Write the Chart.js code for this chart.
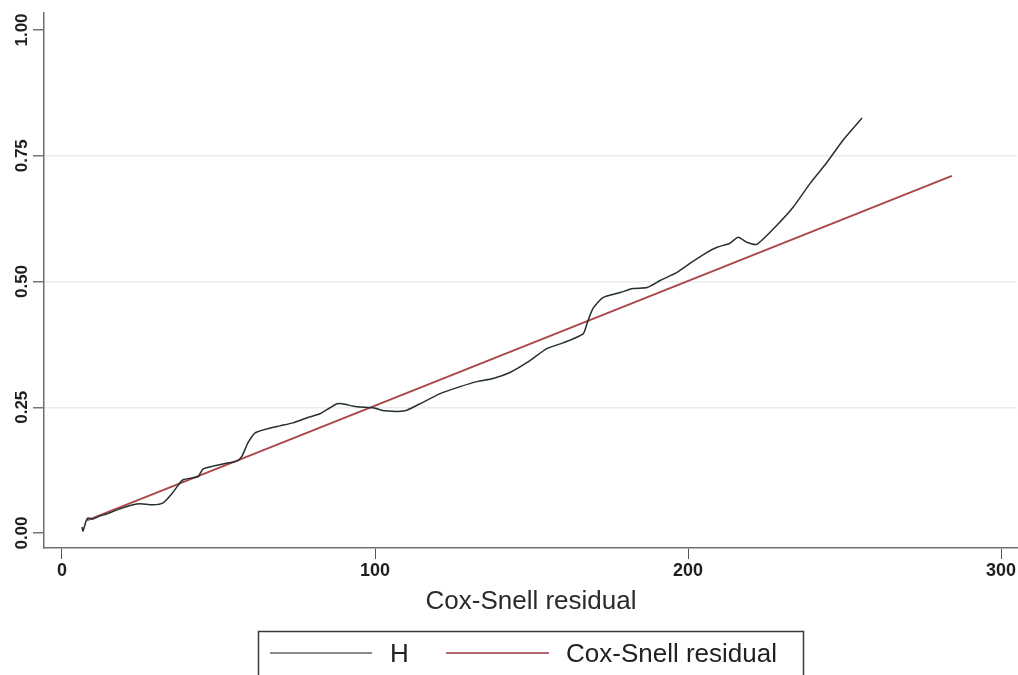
<!DOCTYPE html>
<html>
<head>
<meta charset="utf-8">
<script src="https://cdn.jsdelivr.net/npm/chart.js@4/dist/chart.umd.min.js"></script>
<style>
  html, body { margin: 0; background: #fff; }
</style>
</head>
<body>
<canvas id="grafico" width="1018" height="675"></canvas>
<script>
// valores
const hX = [6.4, 6.7, 7.7, 8.3, 9.9, 12.1, 14.4, 18.5, 22.7, 24.9, 29.1, 32.3, 35.1, 37.7, 38.7, 41.9, 43.5, 45.0, 48.2, 52.7,
            55.9, 57.5, 59.4, 61.7, 65.5, 69.6, 73.8, 78.3, 82.4, 85.6, 87.9, 89.5, 94.2, 99.4, 103.2, 109.6, 114.4, 120.8, 127.2, 132.6,
            137.7, 143.1, 148.6, 155.0, 160.1, 166.5, 167.7, 169.6, 172.8, 178.3, 182.4, 186.9, 191.1, 196.5, 200.6, 206.1, 209.3, 213.4, 216.0, 218.8,
            222.0, 228.4, 233.5, 239.0, 244.4, 249.5, 255.6];
const hY = [0.012, 0.004, 0.024, 0.030, 0.028, 0.034, 0.038, 0.048, 0.056, 0.058, 0.056, 0.060, 0.078, 0.100, 0.106, 0.110, 0.112, 0.127, 0.133, 0.139,
            0.143, 0.153, 0.179, 0.199, 0.207, 0.213, 0.219, 0.229, 0.237, 0.249, 0.257, 0.257, 0.251, 0.249, 0.243, 0.243, 0.257, 0.277, 0.291, 0.301,
            0.307, 0.319, 0.339, 0.367, 0.378, 0.396, 0.416, 0.446, 0.468, 0.478, 0.486, 0.488, 0.502, 0.518, 0.536, 0.558, 0.568, 0.576, 0.588, 0.578,
            0.574, 0.612, 0.647, 0.695, 0.737, 0.781, 0.825];
const csX = [8.0, 284.3];
const csY = [0.025, 0.710];

const xTicks = [0, 100, 200, 300];
const yTicks = [0, 0.25, 0.5, 0.75, 1];
const xTitle = 'Cox-Snell residual';
const legendLabels = ['H', 'Cox-Snell residual'];

const colorH = '#24302b';
const colorCS = '#a9474b';

function zip(xs, ys) {
  return xs.map((x, i) => ({ x: x, y: ys[i] }));
}

// dibuja etiquetas del eje y (giradas), titulo del eje x y la leyenda con borde
const extras = {
  id: 'extras',
  afterDraw(chart) {
    const ctx = chart.ctx;
    const y = chart.scales.y;
    ctx.save();
    ctx.fillStyle = '#1e1e1e';
    ctx.font = 'bold 17px "Liberation Sans", Arial, sans-serif';
    ctx.textAlign = 'center';
    ctx.textBaseline = 'middle';
    y.ticks.forEach(t => {
      const py = y.getPixelForValue(t.value);
      ctx.save();
      ctx.translate(22, py);
      ctx.rotate(-Math.PI / 2);
      ctx.fillText(t.value.toFixed(2), 0, 0);
      ctx.restore();
    });

    // titulo eje x
    ctx.font = '26px "Liberation Sans", Arial, sans-serif';
    ctx.fillStyle = '#2a2a2a';
    ctx.fillText(xTitle, 531, 602);

    // leyenda
    ctx.strokeStyle = '#3a3a3a';
    ctx.lineWidth = 1.5;
    ctx.strokeRect(258.5, 631.5, 545, 60);
    ctx.lineWidth = 2;
    ctx.strokeStyle = '#8a8a8a';
    ctx.beginPath(); ctx.moveTo(270, 653); ctx.lineTo(372, 653); ctx.stroke();
    ctx.strokeStyle = '#b06a6d';
    ctx.beginPath(); ctx.moveTo(446, 653); ctx.lineTo(549, 653); ctx.stroke();
    ctx.textAlign = 'left';
    ctx.fillStyle = '#222';
    ctx.fillText(legendLabels[0], 390, 655);
    ctx.fillText(legendLabels[1], 566, 655);
    ctx.restore();
  }
};

new Chart(document.getElementById('grafico'), {
  type: 'scatter',
  data: {
    datasets: [
      {
        label: legendLabels[0],
        data: zip(hX, hY),
        showLine: true,
        borderColor: colorH,
        borderWidth: 1.5,
        pointRadius: 0,
        tension: 0.2
      },
      {
        label: legendLabels[1],
        data: zip(csX, csY),
        showLine: true,
        borderColor: colorCS,
        borderWidth: 2,
        pointRadius: 0
      }
    ]
  },
  options: {
    responsive: false,
    animation: false,
    layout: { padding: { top: 13, right: 1, left: 0, bottom: 0 } },
    plugins: { legend: { display: false }, tooltip: { enabled: false } },
    scales: {
      x: {
        type: 'linear',
        min: -5.75,
        max: 305.1,
        afterBuildTicks: s => { s.ticks = xTicks.map(v => ({ value: v })); },
        afterFit: s => { s.height = 127; },
        border: { color: '#6e6e6e', width: 1.5 },
        grid: { drawOnChartArea: false, tickLength: 11, tickColor: '#555' },
        ticks: {
          padding: 1,
          color: '#1e1e1e',
          maxRotation: 0,
          font: { family: '"Liberation Sans", Arial, sans-serif', size: 18, weight: 'bold' }
        }
      },
      y: {
        type: 'linear',
        min: -0.0298,
        max: 1.0338,
        afterBuildTicks: s => { s.ticks = yTicks.map(v => ({ value: v })); },
        afterFit: s => { s.width = 44; },
        border: { color: '#6e6e6e', width: 1.5 },
        grid: {
          tickLength: 11,
          tickColor: '#777',
          color: c => (c.tick && c.tick.value > 0 && c.tick.value < 1) ? '#ececec' : 'rgba(0,0,0,0)',
          lineWidth: 1.5
        },
        ticks: { display: false }
      }
    }
  },
  plugins: [extras]
});
</script>
</body>
</html>
